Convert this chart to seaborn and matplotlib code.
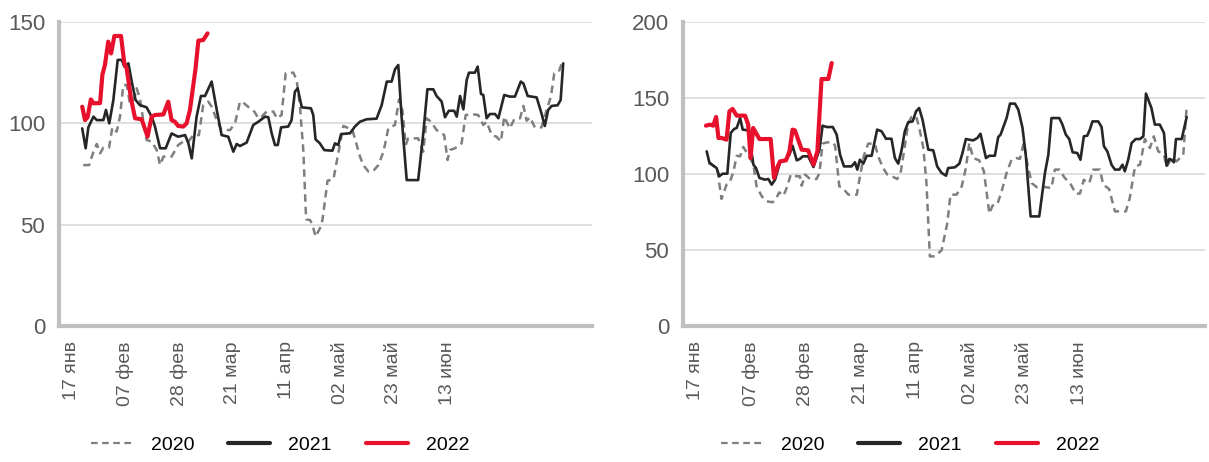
import matplotlib
matplotlib.use("Agg")
import matplotlib.pyplot as plt
import seaborn as sns

# ---------------- data (x = days since 17 Jan) ----------------
tick_days = [0, 21, 42, 63, 84, 105, 126, 147]
tick_labels = ["17 янв", "07 фев", "28 фев", "21 мар", "11 апр", "02 май", "23 май", "13 июн"]

# left panel
L20_days = [4.4, 6.7, 8.4, 9.7, 11, 12.3, 14.5, 15.8, 17.5, 18.8, 20.1, 21.4, 22.7, 24.4, 25.3, 26.6, 27.9,
            29.2, 31.2, 33.2, 34.5, 35.8, 39, 41.6, 43.6, 45.6, 47.5, 49.7, 51.4, 53.4, 54.7, 56.7, 58.6, 61.9,
            63.85, 65.8, 67.1, 69.7, 71.4, 73, 74.3, 76.2, 78.9, 80.2, 82.1, 83.7, 86.7, 88, 89.3, 90.6, 91.7,
            93.2, 94.1, 95.4, 97.1, 98.1, 100.1, 102.4, 104.3, 106.3, 107.6, 109.8, 110.8, 112.8, 114.1, 116.1,
            118, 120, 122, 123.9, 126.5, 128.1, 129.4, 130.7, 131.7, 135.6, 137.6, 138.9, 140.6, 142.8, 145.8,
            147.1, 148, 150, 152.6, 154.2, 156.5, 159.1, 161.1, 162.4, 164.4, 166.3, 168, 169.3, 171.5, 173.2,
            175.5, 176.8, 178.1, 179.4, 181.3, 183.9, 185.9, 187.6, 188.9, 190.7, 192.2]
L20_vals = [79.4, 79.4, 86, 89.8, 85.2, 88, 88, 98, 95.9, 103.3, 118.9, 118.9, 109.9, 112.3, 117.3, 112.3, 101.6,
            91.8, 91, 86.8, 79.4, 83.6, 83.6, 89.3, 91, 91, 94.2, 94.2, 109, 110.7, 108.2, 101.6, 96.7, 96.7,
            100, 110.7, 110.2, 107.4, 105.8, 102.5, 103.3, 105.8, 105.8, 102.5, 104.1, 124.7, 125, 121.4, 108.2,
            86.8, 52.6, 52.3, 50.3, 44.1, 48.2, 52.3, 71.7, 72.4, 85.2, 98.7, 98, 96.7, 92.6, 83.6, 79.4, 76.2,
            76.5, 79.4, 86, 97.5, 99.2, 111.8, 106.6, 89.3, 92.6, 92.6, 86, 102.5, 100.8, 96.7, 94.2,
            81.9, 86.8, 87.7, 90.1, 104.1, 104.6, 104.1, 99.2, 100.8, 94.2, 93.4, 91, 103.3, 97.5, 102,
            102.5, 108.6, 101.3, 103, 98, 98, 106.6, 113.2, 124.7, 125.5, 130.9]

L21_days = [4.0, 5.35, 6.4, 8.4, 9.7, 12.3, 13.3, 14.6, 16.2, 17.9, 19.5, 20.5, 22.1, 23.4, 24.9, 26.6, 29.2,
            31.2, 32.5, 34.5, 36.7, 39, 40.3, 41.6, 44.3, 45.6, 46.9, 48.8, 50.5, 52.1, 54.7, 56.7, 58.6, 61.2,
            63.2, 64.5, 65.8, 68.4, 71, 73, 75.6, 76.9, 78.2, 79.5, 80.6, 81.9, 84.7, 86, 87.3, 88.4, 90, 93.6,
            94.5, 95.4, 97.1, 98.8, 102, 103, 104.3, 105.4, 108.9, 110.8, 112.8, 115.4, 119.3, 121.3, 123.3,
            125.2, 126.5, 127.8, 129.1, 131.1, 135.6, 137.6, 139.2, 141.5, 142.8, 144.8, 146.1, 147.6, 149.7,
            150.7, 152, 153.3, 154.6, 155.5, 157.8, 158.9, 160.2, 161.1, 162.4, 163.7, 165.7, 167, 169.3, 171.5,
            173.5, 175.8, 176.8, 178.5, 182, 183.9, 185.2, 186.5, 187.9, 190.2, 191.4, 192.4]
L21_vals = [97.5, 87.7, 98, 103.3, 101.6, 101.6, 106.6, 100, 111.5, 131.3, 131.3, 128, 129.6, 120.6, 111.5, 109,
            107.9, 103.3, 98.4, 87.7, 87.7, 95, 94.2, 93.4, 94.2, 90.1, 82.7, 103.3, 113.5, 113.5, 120.6, 106.6,
            94.2, 93.4, 86, 89.8, 88.8, 90.5, 99.2, 100.8, 103.3, 103, 95.1, 89.3, 89.3, 98, 98.4, 101.6, 115.6,
            117.3, 107.9, 107.4, 104.1, 92.1, 90.1, 86.8, 86.5, 90.1, 89.3, 94.7, 95.1, 98.4, 100.8, 102, 102.3,
            109, 120.6, 120.6, 126.6, 128.8, 103.3, 72, 72, 95.1, 116.8, 116.8, 113.5, 110.7, 103, 106.2, 106.2,
            103.3, 113.5, 106.9, 121.4, 125, 125, 128, 114.5, 114, 102.5, 104.6, 104.6, 102.5, 114, 113.2,
            113.2, 120.6, 119.7, 113.5, 112.8, 104.9, 98.7, 106.6, 108.6, 108.9, 111.5, 129.6]

L22_days = [4.0, 5.1, 6.1, 7.4, 8.4, 11, 11.9, 12.9, 14.2, 15.3, 16.6, 19.2, 20.5, 21.4, 23.1, 24.7, 27.3, 29.6,
            31.2, 32.5, 35.8, 37.7, 39, 40.3, 41.6, 43.6, 44.9, 46.2, 48.4, 49.5, 51.4, 53.1]
L22_vals = [108.2, 101.6, 103, 111.8, 109.9, 110, 124, 128.8, 140.3, 134.5, 143.1, 143.1, 129.6, 127.1, 112.3,
            102.5, 102, 93.4, 103.3, 104.1, 104.4, 110.7, 101.6, 100.8, 98.7, 98.4, 100, 106.6, 127.1, 140.8,
            141.1, 144.4]

# right panel
R20_days = [4.7, 6.6, 8.2, 8.9, 9.8, 11.7, 12.8, 14.3, 15.6, 16.9, 18.1, 19.4, 20.7, 22, 23.2, 25.2, 27.1, 29.4,
            30.6, 31.9, 33.5, 35, 36.3, 38.6, 39.8, 40.5, 41.8, 43.7, 46.2, 47.3, 48.5, 50.1, 52.4, 53.3, 54.9,
            56.2, 58.4, 61.6, 62.6, 64.3, 66, 68.5, 69.8, 71.7, 73.3, 75.6, 77.1, 78.4, 80, 81.3, 82.6, 84.3,
            85.5, 87.1, 88.3, 89.6, 91.5, 94.1, 96.3, 97.5, 99.8, 101.8, 103.4, 104.7, 106.2, 108.5, 110.3,
            112.4, 113.6, 115.4, 117.1, 119, 120.9, 122.8, 124.1, 125.6, 126.9, 128.6, 130.5, 133.7, 136.2,
            137.5, 139.2, 141.3, 143.3, 145.5, 147.1, 148.6, 149.6, 150.7, 152.2, 154.8, 156, 158.3, 160.5,
            164.7, 166.2, 168.2, 170.1, 172, 173.9, 175.4, 177.1, 179.3, 180.3, 182.2, 184.1, 186.7, 188]
R20_vals = [107.2, 105.5, 103.9, 94.1, 83.6, 93, 94.1, 101.1, 112, 111.6, 117.8, 114.3, 110.5, 106.1, 91.9, 85.3,
            82, 81.4, 83.6, 87.9, 85.7, 91.9, 99.6, 98.5, 98.5, 92.3, 99.6, 96.7, 96.7, 100.7, 120, 120.8, 120.8,
            118.6, 91.9, 90.8, 86.4, 86.4, 96.3, 112, 120, 120, 111.6, 103.9, 99.6, 98, 96.7, 100.7, 118.2,
            133.6, 137.5, 137.9, 130.9, 117.1, 94.1, 45.8, 45.8, 49.8, 67.8, 86.4, 86.4, 91.9, 103.9, 120.4,
            110.5, 109, 101.8, 73.9, 79.2, 79.8, 88.6, 100.7, 109.4, 110.5, 109.9, 120.8, 107.2, 94.1, 91.4,
            91.4, 90.8, 102.9, 102.9, 97.4, 94.1, 87.1, 87.1, 96.3, 94.5, 94.1, 102.9, 102.9, 93, 90.1, 75.4,
            75.4, 84.2, 105, 106.1, 123, 117.1, 124.8, 114.9, 112.7, 104.6, 110.5, 108.3, 112.7, 144.5]

R21_days = [4.1, 5.1, 6.6, 7.9, 8.9, 10.2, 12, 13.3, 14.6, 15.6, 16.9, 17.9, 20, 22, 23, 24.3, 26.4, 27.7, 29,
            30.3, 32.2, 34.1, 35.8, 37, 38.6, 39.8, 40.9, 43, 45, 47.3, 48.5, 50.1, 52.4, 53.9, 55.2, 56.7, 59.6,
            60.9, 61.8, 62.8, 64.1, 65.4, 67.3, 69.4, 71.1, 72.8, 74.9, 76.2, 77.5, 78.8, 80, 81.3, 83, 84.3,
            85.5, 86.8, 89, 90.9, 92.4, 94.1, 95.8, 96.6, 99.2, 100.9, 102.1, 103.4, 106.2, 107.8, 109, 111.1,
            112.4, 114.5, 115.8, 116.7, 119, 120.3, 122.2, 123.5, 125.1, 126.4, 128.2, 131.5, 133.7, 135, 136.2,
            139.2, 140.4, 141.7, 143, 144.3, 146.1, 147.3, 148.6, 149.9, 150.9, 151.9, 154.1, 155.4, 156.3,
            157.6, 159.2, 160.5, 162.2, 163.4, 164.3, 165.6, 166.9, 168.5, 170.1, 171.4, 172.4, 174.5, 175.8,
            177.7, 179.3, 180.3, 181.3, 182.2, 183.1, 183.9, 186.1, 188]
R21_vals = [114.9, 107.7, 105.5, 103.9, 98.5, 100.2, 100.2, 127, 129.6, 130.3, 136.8, 129.2, 128.7, 106.1, 103.9,
            97.4, 96.3, 96.7, 93, 96.3, 107.7, 109, 112.7, 118.6, 109, 109.9, 111.6, 111.6, 104.6, 116, 131.8,
            130.9, 130.9, 125.9, 112.7, 105, 105, 107.7, 102.9, 109.4, 106.8, 112, 112, 129.2, 128.1, 123.2,
            123.2, 110.5, 106.8, 116, 128.1, 134, 134.6, 141.2, 143.4, 135.7, 116, 115.6, 105, 100.7, 98.9,
            103.9, 104.4, 106.8, 113.8, 123, 122.1, 123.7, 126.5, 110.5, 112, 112, 124.3, 125.9, 136.8, 146.3,
            146.3, 142.3, 130.3, 111.6, 72.1, 72.1, 100.7, 112.7, 136.8, 136.8, 132.5, 125.9, 123, 114.3, 113.8,
            109.4, 124.8, 125.2, 129.2, 134.6, 134.6, 130.9, 118.2, 114.9, 106.1, 102.9, 102.9, 106.1, 101.8,
            109.4, 120.4, 123, 123, 124.8, 152.9, 143.4, 132.5, 132.5, 127, 105.5, 109.9, 109.4, 107.7, 123,
            123, 137.5]

R22_days = [3.8, 5.4, 6.6, 7.7, 8.6, 9.8, 11.7, 12.8, 14, 15.6, 18.8, 20, 20.9, 21.9, 24.3, 28.6, 29.9, 31.2,
            32.2, 34.5, 35.8, 37, 37.9, 40.5, 43, 45, 46.5, 48.1, 50.7, 52]
R22_vals = [131.8, 132.5, 131.8, 137.5, 123.7, 123.7, 122.6, 141.2, 142.8, 138.4, 138.4, 132.5, 110.5, 130.3,
            123, 123, 97.4, 104.6, 108.3, 109, 114.9, 129.2, 128.7, 116, 115.6, 106.1, 114.9, 162.5, 162.5, 173]

# ---------------- styling ----------------
sns.set_theme(style="white")
plt.rcParams["font.family"] = ["Liberation Sans", "DejaVu Sans"]

W, H = 1209, 462
fig = plt.figure(figsize=(W / 100, H / 100), dpi=100)

C20, C21, C22 = "#7f7f7f", "#262626", "#e8112d"
TICK_C = "#595959"
SPINE_C = "#bfbfbf"
GRID_C = "#d9d9d9"


def panel(px0, px1, day_at_px0, px_per_day, ymax, yticks, s20, s21, s22, legend_cx):
    ax = fig.add_axes([px0 / W, (H - 326) / H, (px1 - px0) / W, (326 - 22) / H])
    sns.lineplot(x=s20[0], y=s20[1], ax=ax, color=C20, lw=1.8, linestyle=(0, (3, 2)),
                 sort=False, estimator=None, label="2020")
    sns.lineplot(x=s21[0], y=s21[1], ax=ax, color=C21, lw=1.9,
                 sort=False, estimator=None, label="2021")
    sns.lineplot(x=s22[0], y=s22[1], ax=ax, color=C22, lw=3.0,
                 sort=False, estimator=None, label="2022")
    ax.set_xlim(day_at_px0, day_at_px0 + (px1 - px0) / px_per_day)
    ax.set_ylim(0, ymax)
    ax.set_yticks(yticks)
    ax.set_xticks(tick_days)
    ax.set_xticklabels(tick_labels, rotation=90, va="top", ha="center")
    ax.tick_params(axis="y", length=0, pad=10, labelsize=16, labelcolor=TICK_C)
    ax.tick_params(axis="x", length=0, pad=11, labelsize=14, labelcolor=TICK_C)
    ax.set_xlabel("")
    ax.set_ylabel("")
    ax.yaxis.grid(True, color=GRID_C, lw=1.2)
    ax.xaxis.grid(False)
    ax.set_axisbelow(True)
    for s in ["top", "right"]:
        ax.spines[s].set_visible(False)
    for s in ["left", "bottom"]:
        ax.spines[s].set_color(SPINE_C)
        ax.spines[s].set_linewidth(3)
    leg = ax.legend(loc="center", bbox_to_anchor=(legend_cx / W, 17 / H), bbox_transform=fig.transFigure,
                    ncol=3, frameon=False, fontsize=14, handlelength=2.15, handletextpad=0.93,
                    columnspacing=1.75)
    widths = [1.6, 3.0, 3.0]
    for line, w in zip(leg.get_lines(), widths):
        line.set_linewidth(w)
    for t in leg.get_texts():
        t.set_color("black")
    return ax


panel(59, 592, (59 - 72) / 2.553, 2.553, 150, [0, 50, 100, 150],
      (L20_days, L20_vals), (L21_days, L21_vals), (L22_days, L22_vals), 280)
panel(683, 1205, (683 - 696) / 2.61, 2.61, 200, [0, 50, 100, 150, 200],
      (R20_days, R20_vals), (R21_days, R21_vals), (R22_days, R22_vals), 910)

fig.savefig("out.png", dpi=100)
